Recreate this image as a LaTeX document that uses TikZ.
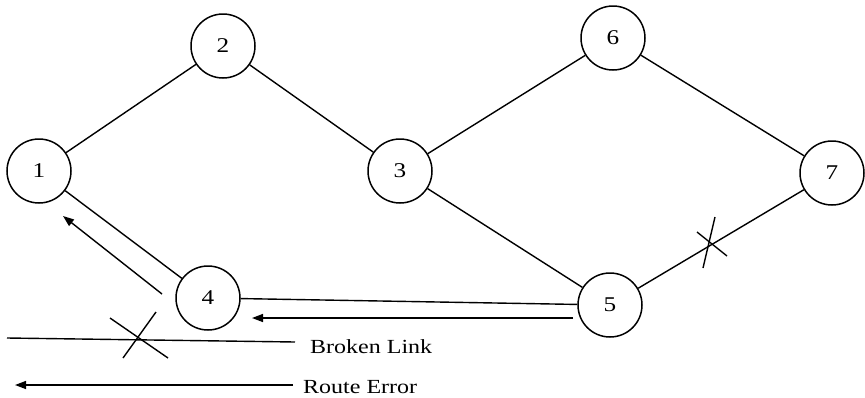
\documentclass[tikz,border=0pt]{standalone}
\usepackage{fontspec}
\setmainfont{Liberation Serif}[FakeStretch=1.2]
\usetikzlibrary{arrows.meta}
\tikzset{
  station/.style={draw, circle, minimum size=64pt, inner sep=0pt, line width=1.5pt,
    font=\fontsize{21}{24}\selectfont},
  link/.style={line width=1.4pt},
  errarrow/.style={line width=1.4pt, -{Triangle[length=11pt,width=8pt]}},
  legendtext/.style={anchor=base west, inner sep=0pt, font=\fontsize{20}{24}\selectfont},
}
\begin{document}
\begin{tikzpicture}[x=1pt,y=-1pt]
  \useasboundingbox (0,0) rectangle (865,397);

  % stations
  \node[station] (n1) at (39,171) {1};
  \node[station] (n2) at (223,46) {2};
  \node[station] (n3) at (400,171) {3};
  \node[station] (n4) at (208,298) {4};
  \node[station] (n5) at (610,305) {5};
  \node[station] (n6) at (613,38) {6};
  \node[station] (n7) at (832,173) {7};

  % links
  \draw[link] (n1) -- (n2);
  \draw[link] (n2) -- (n3);
  \draw[link] (n3) -- (n6);
  \draw[link] (n6) -- (n7);
  \draw[link] (n3) -- (n5);
  \draw[link] (n5) -- (n7);
  \draw[link] (n1) -- (n4);
  \draw[link] (n4) -- (n5);

  % broken link marker on 5--7
  \coordinate (b1) at (697,232); \coordinate (b2) at (727,256);
  \coordinate (b3) at (715,217); \coordinate (b4) at (703,268);
  \draw[link] (b1) -- (b2);
  \draw[link] (b3) -- (b4);

  % route error messages travelling back to the source
  \coordinate (e1s) at (573,318); \coordinate (e1t) at (252,318);
  \draw[errarrow] (e1s) -- (e1t);
  \coordinate (e2s) at (162,294); \coordinate (e2t) at (63,216);
  \draw[errarrow] (e2s) -- (e2t);

  % legend
  \coordinate (l1s) at (7,338); \coordinate (l1e) at (295,342);
  \draw[link] (l1s) -- (l1e);
  \coordinate (c1) at (110,318); \coordinate (c2) at (168,358);
  \coordinate (c3) at (156,312); \coordinate (c4) at (123,358);
  \draw[link] (c1) -- (c2);
  \draw[link] (c3) -- (c4);
  \node[legendtext] (t1) at (310,353) {Broken Link};

  \coordinate (l2s) at (293,385); \coordinate (l2e) at (15,385);
  \draw[errarrow] (l2s) -- (l2e);
  \node[legendtext] (t2) at (303,393) {Route Error};
\end{tikzpicture}
\end{document}
